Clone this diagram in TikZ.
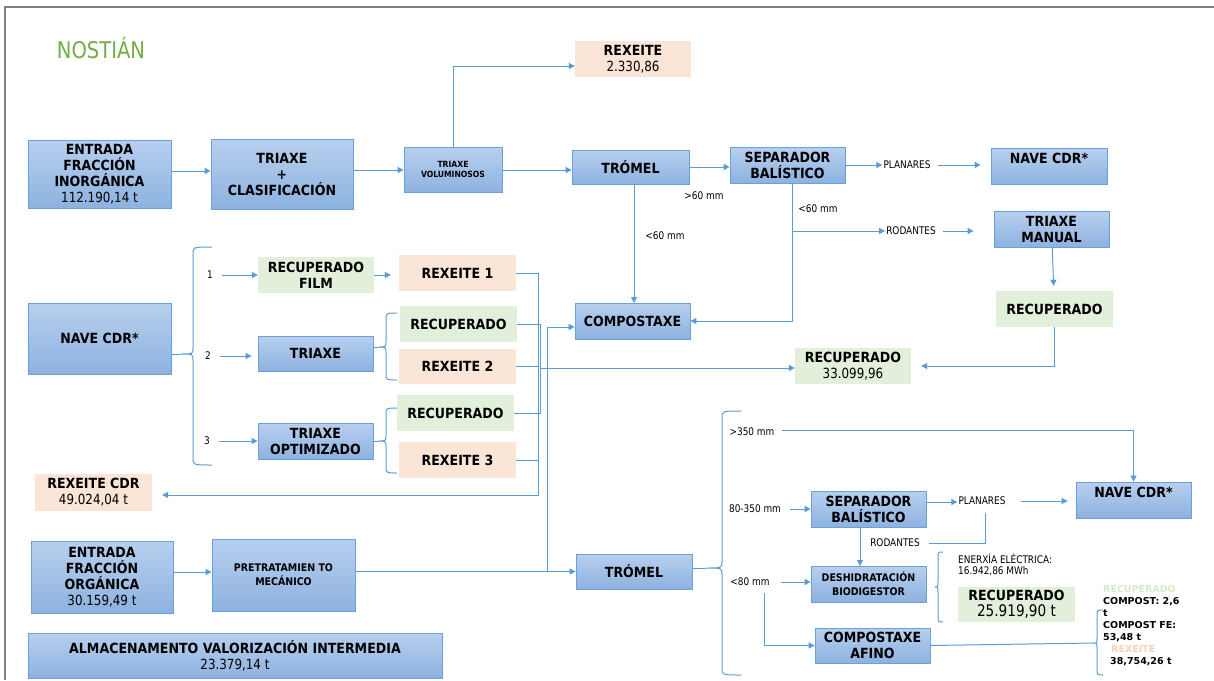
\documentclass[tikz,border=0pt]{standalone}
\usepackage{fontspec}
\setmainfont{DejaVu Sans}
\newfontfamily\narrowfont{DejaVu Sans}[FakeStretch=0.85]
\newfontfamily\boxfont{DejaVu Sans}[FakeStretch=0.9]
\usepackage{tikz}
\usetikzlibrary{calc}
\usetikzlibrary{arrows.meta}

\definecolor{BoxTop}{RGB}{184,207,238}
\definecolor{BoxBot}{RGB}{141,178,224}
\definecolor{BoxLine}{RGB}{108,160,216}
\definecolor{RecFill}{RGB}{226,239,218}
\definecolor{RejFill}{RGB}{251,229,214}
\definecolor{FlowCol}{RGB}{91,155,213}
\definecolor{TitleGreen}{RGB}{112,173,71}
\definecolor{PaleGreen}{RGB}{214,234,200}
\definecolor{PalePeach}{RGB}{248,210,184}
\definecolor{FrameGray}{RGB}{128,128,128}

\newcommand{\FontBox}{\boxfont\bfseries\fontsize{14}{16}\selectfont}
\newcommand{\FontMid}{\boxfont\bfseries\fontsize{10.5}{14}\selectfont}
\newcommand{\FontSmall}{\boxfont\bfseries\fontsize{8.5}{10.5}\selectfont}
\newcommand{\FontNum}{\narrowfont\mdseries\fontsize{14}{16}\selectfont}
\newcommand{\FontLbl}{\narrowfont\fontsize{10.5}{11.5}\selectfont}
\newcommand{\FontTitle}{\narrowfont\fontsize{23}{26}\selectfont}
\newcommand{\FontOut}{\bfseries\fontsize{9.5}{12}\selectfont}
\newcommand{\Num}[1]{{\FontNum #1}}
% brace: x ends, x body, x tip, y top, y tip, y bottom
\newcommand{\CurlyBrace}[6]{%
  \draw[wire] (#1,#4) .. controls (#2,#4) .. (#2,#4+7) -- (#2,#5-6)
    .. controls (#2,#5) .. (#3,#5) .. controls (#2,#5) .. (#2,#5+6)
    -- (#2,#6-7) .. controls (#2,#6) .. (#1,#6);}

\tikzset{
  procbox/.style={draw=BoxLine, line width=0.8pt, top color=BoxTop, bottom color=BoxBot,
    font=\FontBox, align=center, inner sep=1pt},
  recbox/.style={fill=RecFill, font=\FontBox, align=center, inner sep=1pt},
  rejbox/.style={fill=RejFill, font=\FontBox, align=center, inner sep=1pt},
  lbl/.style={font=\FontLbl, inner sep=1pt},
  flow/.style={draw=FlowCol, line width=1pt, ->},
  wire/.style={draw=FlowCol, line width=1pt},
}

\begin{document}
\begin{tikzpicture}[x=1pt, y=-1pt, >={Triangle[length=6pt,width=6pt]}]

  \useasboundingbox (0,0) rectangle (1214,680);
  \draw[FrameGray, line width=2pt] (5,680) -- (5,7) -- (1214,7);
  \node[font=\FontTitle, text=TitleGreen] (title) at (101,48) {NOSTIÁN};

  % fraccion inorganica
  \node[procbox, minimum width=143pt, minimum height=68pt] (entinorg) at (99.5,174)
    {ENTRADA\\FRACCIÓN\\INORGÁNICA\\\Num{112.190,14 t}};
  \node[procbox, minimum width=142pt, minimum height=70pt] (triclas) at (282,174) {TRIAXE\\+\\CLASIFICACIÓN};
  \node[procbox, minimum width=98pt, minimum height=45pt, font=\FontSmall] (trivol) at (453,169.5) {TRIAXE\\VOLUMINOSOS};
  \node[rejbox, minimum width=116pt, minimum height=36pt] (rexvol) at (633,59) {REXEITE\\\Num{2.330,86}};
  \node[procbox, minimum width=117pt, minimum height=34pt] (tromA) at (630.5,167) {TRÓMEL};
  \node[procbox, minimum width=115pt, minimum height=36pt] (sepA) at (787.5,165) {SEPARADOR\\BALÍSTICO};
  \node[procbox, minimum width=116pt, minimum height=36pt] (naveA) at (1049,166) {NAVE CDR*\\\mbox{}};
  \node[procbox, minimum width=115pt, minimum height=36pt] (trimanual) at (1051.5,229) {TRIAXE\\MANUAL};
  \node[recbox, minimum width=117pt, minimum height=36pt] (recman) at (1054.5,309) {RECUPERADO};
  \node[procbox, minimum width=115pt, minimum height=36pt] (compoA) at (632.5,321) {COMPOSTAXE};
  \node[recbox, minimum width=116pt, minimum height=36pt] (rectot) at (853,366) {RECUPERADO\\\Num{33.099,96}};

  \node[lbl] (gt60) at (704,196) {>60 mm};
  \node[lbl] (lt60s) at (818,209) {<60 mm};
  \node[lbl] (lt60t) at (665,236) {<60 mm};
  \node[lbl] (planA) at (907,165) {PLANARES};
  \node[lbl] (rodA) at (911,231) {RODANTES};

  \draw[flow] (entinorg.east |- 0,171) -- (triclas.west |- 0,171);
  \draw[flow] (triclas.east |- 0,170) -- (trivol.west |- 0,170);
  \draw[flow] (trivol.east |- 0,170) -- (tromA.west |- 0,170);
  \draw[flow] (trivol.north) |- (rexvol.west |- 0,66);
  \draw[flow] (tromA) -- (sepA.west |- tromA);
  \draw[flow] (sepA.east) -- (planA.west);
  \draw[flow, shorten <=6pt, shorten >=10pt] (planA.east) -- (naveA.west |- planA);
  \draw[flow] (634,184) -- (634,303);
  \draw[flow] (792,183) |- (compoA.east);
  \coordinate (rodsplit) at (792,231);
  \draw[flow] (rodsplit) -- (rodA.west);
  \draw[flow, shorten <=6pt, shorten >=20pt] (rodA.east) -- (trimanual.west |- rodA);
  \draw[flow, shorten >=5pt] (trimanual) -- (recman);
  \draw[flow, shorten >=10pt] (recman.south) |- (rectot.east);

  % nave CDR
  \node[procbox, minimum width=143pt, minimum height=71pt] (naveB) at (99.5,338.5) {NAVE CDR*};
  \node[lbl] (opt1) at (210,275) {1};
  \node[lbl] (opt2) at (208,356) {2};
  \node[lbl] (opt3) at (207,441) {3};
  \node[recbox, minimum width=116pt, minimum height=36pt] (recfilm) at (316,275) {RECUPERADO\\FILM};
  \node[rejbox, minimum width=117pt, minimum height=36pt] (rex1) at (457.5,273) {REXEITE 1};
  \node[procbox, minimum width=115pt, minimum height=35pt] (triaxe) at (315.5,353.5) {TRIAXE};
  \node[recbox, minimum width=117pt, minimum height=36pt] (recB) at (458.5,324) {RECUPERADO};
  \node[rejbox, minimum width=117pt, minimum height=35pt] (rex2) at (457.5,366.5) {REXEITE 2};
  \node[procbox, minimum width=115pt, minimum height=36pt] (triopt) at (315.5,441) {TRIAXE\\OPTIMIZADO};
  \node[recbox, minimum width=117pt, minimum height=36pt] (recC) at (455.5,413) {RECUPERADO};
  \node[rejbox, minimum width=117pt, minimum height=36pt] (rex3) at (457.5,460) {REXEITE 3};
  \node[rejbox, minimum width=117pt, minimum height=37pt] (rexcdr) at (93.5,492.5) {REXEITE CDR\\\Num{49.024,04 t}};

  \CurlyBrace{212}{193}{180}{247}{354}{465}
  \coordinate (tipA) at (180,354);
  \draw[wire] (naveB.east |- tipA) -- (tipA);
  \draw[flow, shorten <=8pt] (opt1.east) -- (recfilm.west);
  \draw[flow, shorten <=8pt, shorten >=6pt] (opt2.east) -- (triaxe.west |- opt2);
  \draw[flow, shorten <=8pt] (opt3.east) -- (triopt.west);
  \draw[flow, shorten >=8pt] (recfilm) -- (rex1.west |- recfilm);
  \CurlyBrace{397}{386}{378}{313}{347}{380}
  \coordinate (tipB) at (378,347);
  \draw[wire] (triaxe.east |- tipB) -- (tipB);
  \CurlyBrace{397}{386}{378}{408}{441}{473}
  \coordinate (tipC) at (378,441);
  \draw[wire] (triopt.east |- tipC) -- (tipC);

  \coordinate (rexbus) at (538,495);
  \draw[flow, shorten >=10pt] (rex1.east) -| (rexbus) -- (rexbus -| rexcdr.east);
  \draw[wire] (rex2.east) -- (rex2.east -| rexbus);
  \draw[wire] (rex3.east) -- (rex3.east -| rexbus);
  \coordinate (recbus) at (540,413);
  \draw[wire] (recB.east) -| (recbus) -- (recC.east);
  \draw[flow] (recbus |- 0,368) -- (rectot.west |- 0,368);

  % fraccion organica
  \node[procbox, minimum width=142pt, minimum height=72pt] (entorg) at (102,577)
    {ENTRADA\\FRACCIÓN\\ORGÁNICA\\\Num{30.159,49 t}};
  \node[procbox, minimum width=143pt, minimum height=72pt, font=\FontMid] (pretrat) at (283.5,575) {PRETRATAMIEN TO\\MECÁNICO};
  \node[procbox, minimum width=116pt, minimum height=35pt] (tromB) at (634,571.5) {TRÓMEL};
  \node[procbox, minimum width=414pt, minimum height=45pt] (almac) at (235,655.5)
    {ALMACENAMENTO VALORIZACIÓN INTERMEDIA\\\Num{23.379,14 t}};

  \draw[flow] (entorg.east |- 0,572) -- (pretrat.west |- 0,572);
  \draw[flow] (pretrat.east |- tromB.west) -- (tromB.west);
  \coordinate (orgsplit) at (547,571.5);
  \draw[flow] (orgsplit) |- (compoA.west |- 0,327);

  % saida do tromel
  \node[lbl] (gt350) at (752,432) {>350 mm};
  \node[lbl] (mid350) at (755,509) {80-350 mm};
  \node[lbl] (lt80) at (750,582) {<80 mm};
  \node[procbox, minimum width=115pt, minimum height=36pt] (naveC) at (1133.5,500) {NAVE CDR*\\\mbox{}};
  \node[procbox, minimum width=115pt, minimum height=36pt] (sepB) at (868.5,509) {SEPARADOR\\BALÍSTICO};
  \node[lbl] (planB) at (982,501) {PLANARES};
  \node[lbl] (rodB) at (895,543) {RODANTES};
  \node[procbox, minimum width=115pt, minimum height=36pt, font=\FontMid] (deshid) at (868.5,584) {DESHIDRATACIÓN\\BIODIGESTOR};
  \node[procbox, minimum width=115pt, minimum height=35pt] (compaf) at (872.5,645.5) {COMPOSTAXE\\AFINO};
  \node[lbl, anchor=west, align=left] (enerx) at (957,564.5) {ENERXÍA ELÉCTRICA:\\16.942,86 MWh};
  \node[recbox, minimum width=117pt, minimum height=35pt] (rec25) at (1016.5,604.5)
    {RECUPERADO\\{\narrowfont\mdseries\fontsize{16}{16}\selectfont 25.919,90 t}};
  \node[font=\FontOut, anchor=north west, align=left, inner sep=0pt] (saidas) at (1103,585)
    {\textcolor{PaleGreen}{RECUPERADO}\\COMPOST: 2,6\\t\\COMPOST FE:\\53,48 t\\
     \hspace*{8pt}\textcolor{PalePeach}{REXEITE}\\\hspace*{7pt}38,754,26 t};

  \CurlyBrace{741}{722}{705}{411}{568}{675}
  \coordinate (tipD) at (705,568);
  \draw[wire] (tromB.east |- tipD) -- (tipD);
  \draw[flow, shorten <=6pt] (gt350.east |- 0,430) -| (naveC.north);
  \draw[flow, shorten <=8pt] (mid350.east) -- (sepB.west);
  \draw[flow] (sepB.east |- 0,502) -- (planB.west |- 0,502);
  \draw[flow, shorten <=14pt, shorten >=8pt] (planB.east) -- (naveC.west |- planB);
  \draw[wire, shorten <=2pt] (985,511) |- ([xshift=8pt]rodB.east);
  \draw[flow] (860,527) -- (860,566);
  \draw[flow, shorten <=10pt] (lt80.east) -- (deshid.west |- lt80);
  \draw[flow] (764,593) |- (compaf.west);
  \CurlyBrace{943}{938}{935}{552}{587}{622}
  \CurlyBrace{1103}{1097}{1094}{610}{643}{675}
  \coordinate (tipE) at (1094,643);
  \draw[wire] (compaf.east) -- (tipE);
\end{tikzpicture}
\end{document}
